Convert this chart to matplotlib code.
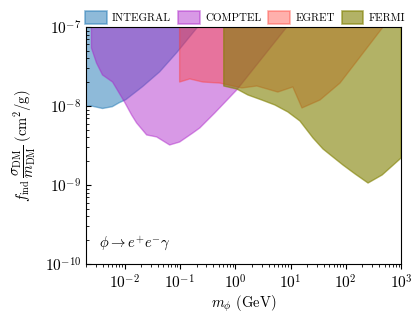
import matplotlib
matplotlib.use("Agg")
import matplotlib.pyplot as plt
from matplotlib.patches import Patch

plt.rcParams['font.family'] = 'serif'
plt.rcParams['font.serif'] = ['cmr10']
plt.rcParams['mathtext.fontset'] = 'cm'
plt.rcParams['axes.formatter.use_mathtext'] = True

# limits (mass in GeV, f sigma/m in cm^2/g)
integral_m = [0.0019, 0.0025, 0.004, 0.006, 0.008, 0.0105, 0.021, 0.043, 0.087, 0.15, 0.21, 0.27]
integral_s = [9.8e-9, 1.0e-8, 9.3e-9, 9.8e-9, 1.1e-8, 1.2e-8, 1.75e-8, 2.7e-8, 4.7e-8, 7.5e-8, 1.0e-7, 1.3e-7]

comptel_m = [0.00252, 0.00311, 0.00399, 0.00607, 0.01, 0.0134, 0.0165, 0.0251, 0.038,
             0.0653, 0.099, 0.171, 0.229, 0.427, 1.07, 2.79, 8.6, 14.8]
comptel_s = [5.4e-8, 3.5e-8, 2.47e-8, 2.01e-8, 1.12e-8, 7.7e-9, 6.1e-9, 4.3e-9, 4.06e-9,
             3.21e-9, 3.5e-9, 4.55e-9, 5.27e-9, 8.15e-9, 1.6e-8, 3.72e-8, 1.0e-7, 1.4e-7]

egret_m = [0.099, 0.151, 0.259, 0.526, 1.32, 2.46, 5.9, 11.0, 16.1, 34.1, 78.5, 181, 472, 778]
egret_s = [2.01e-8, 2.2e-8, 2.01e-8, 1.95e-8, 1.69e-8, 1.79e-8, 1.5e-8, 1.74e-8, 9.44e-9,
           1.19e-8, 1.95e-8, 4.17e-8, 1.0e-7, 1.5e-7]

fermi_m = [0.621, 1.07, 1.69, 3.03, 5.21, 8.97, 14.8, 25.5, 38.6, 58.6, 88.9, 147, 252, 453, 1000]
fermi_s = [1.79e-8, 1.64e-8, 1.38e-8, 1.19e-8, 1.03e-8, 8.4e-9, 6.46e-9, 3.94e-9, 2.86e-9,
           2.26e-9, 1.79e-9, 1.38e-9, 1.06e-9, 1.34e-9, 2.2e-9]

labels = ["INTEGRAL", "COMPTEL", "EGRET", "FERMI"]
colors = ["#1f77b4", "#aa1ec8", "#ff3a30", "#808000"]
alphas = [0.5, 0.45, 0.4, 0.6]

fig = plt.figure(figsize=(4.17, 3.17), dpi=100)
ax = fig.add_axes([0.206, 0.167, 0.756, 0.748])

curves = [(integral_m, integral_s), (comptel_m, comptel_s), (egret_m, egret_s), (fermi_m, fermi_s)]
handles = []
for (m, s), lab, c, a in zip(curves, labels, colors, alphas):
    ax.fill_between(m, s, 1.0, facecolor=c, alpha=a, edgecolor=c, linewidth=1.0)
    handles.append(Patch(facecolor=c, edgecolor=c, alpha=a, linewidth=1.2, label=lab))

ax.set_xscale('log')
ax.set_yscale('log')
ax.set_xlim(2e-3, 1e3)
ax.set_ylim(1e-10, 1e-7)

ax.tick_params(axis='y', which='both', direction='in', labelsize=11)
ax.tick_params(axis='x', which='both', direction='out', labelsize=11)

ax.set_xlabel(r'$m_\phi$ (GeV)', fontsize=10.5, labelpad=1)
ax.set_ylabel(r'$f_{\rm ind}\,\dfrac{\sigma_{\rm DM}}{m_{\rm DM}}\;({\rm cm^2/g})$', fontsize=10.5, labelpad=5)

ax.text(0.04, 0.07, r'$\phi \rightarrow e^{+}e^{-}\gamma$', transform=ax.transAxes, fontsize=10.5)

ax.legend(handles=handles, loc='lower center', bbox_to_anchor=(0.505, 0.99), ncol=4,
          frameon=False, fontsize=7.9, handlelength=2.0, handleheight=1.4,
          columnspacing=0.6, handletextpad=0.5, borderaxespad=0.1)

fig.savefig("out.png", dpi=100)
